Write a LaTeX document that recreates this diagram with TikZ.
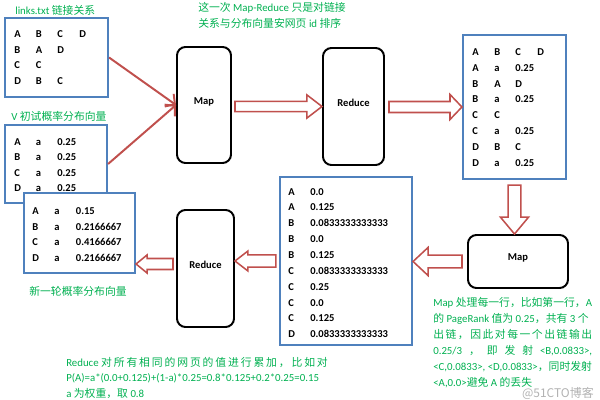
\documentclass[tikz,border=0pt]{standalone}
\usepackage{fontspec}
\setmainfont{Carlito}
\newfontfamily\cjk{Noto Sans CJK SC}
\usepackage{tikz}
\usetikzlibrary{arrows.meta,calc,fit}
\definecolor{box-blue}{RGB}{79,129,189}
\definecolor{arrow-red}{RGB}{192,80,77}
\definecolor{note-green}{RGB}{0,176,80}
\tikzstyle{datbox}=[draw=box-blue, line width=1.5pt, fill=white, inner sep=0pt]
\tikzstyle{procbox}=[draw=black, line width=1.4pt, rounded corners=6pt, fill=white, inner sep=0pt, font=\fontsize{7.5}{9}\selectfont\bfseries]
\tikzstyle{cell}=[anchor=base west, inner sep=0pt, font=\fontsize{7.5}{9}\selectfont\bfseries]
\tikzstyle{note}=[anchor=base west, inner sep=0pt, text=note-green, font=\fontsize{7.7}{11}\selectfont]
\tikzstyle{linkarr}=[draw=arrow-red, line width=1.4pt, -{Straight Barb[length=5pt,width=11pt]}]
\tikzstyle{blockarr}=[draw=arrow-red, line width=1.1pt, fill=white]
\newcommand{\zh}[1]{{\cjk #1}}
\makeatletter
\newcommand{\spreadzh}[1]{{\cjk\@tfor\zhc:=#1\do{\zhc\hfil}\unskip}}
\makeatother
% hollow block arrow: from, to, shaft half width, head half width, head length
\newcommand{\blockArrow}[5]{
	\coordinate (ZZh) at ($#2!#5!#1$);
	\draw[blockarr] ($#1!#3!90:#2$) -- ($(ZZh)!#3!-90:#1$) -- ($(ZZh)!#4!-90:#1$) -- #2
		-- ($(ZZh)!#4!90:#1$) -- ($(ZZh)!#3!90:#1$) -- ($#1!#3!-90:#2$) -- cycle;
}

\begin{document}
\begin{tikzpicture}[x=0.025cm, y=-0.025cm]
	\useasboundingbox (0,0) rectangle (600,400);
	% data boxes
	\node[datbox, fit={(5,18) (108,97)}] (links) {};
	\node[datbox, fit={(5,125) (107,203)}] (vinit) {};
	\node[datbox, fit={(24,193) (135,273)}] (vnew) {};
	\node[datbox, fit={(463,35) (566,179)}] (sorted) {};
	\node[datbox, fit={(280,177) (412,345)}] (mapout) {};
	% map / reduce steps
	\node[procbox, fit={(177,47) (231,163)}] (map1) {Map};
	\node[procbox, fit={(323,48) (384,165)}] (red1) {Reduce};
	\node[procbox, fit={(468,235) (568,288)}] (map2) {Map};
	\node[procbox, fit={(177,210) (234,327)}] (red2) {Reduce};
	% table contents
	\foreach \ca/\cb/\cc/\cd [count=\i from 0] in {A/B/C/D, B/A/D/{}, C/C/{}/{}, D/B/C/{}} {
		\node[cell] (lk\i-1) at (14,37.4+15.8*\i) {\ca};
		\node[cell] (lk\i-2) at (35.7,37.4+15.8*\i) {\cb};
		\node[cell] (lk\i-3) at (57,37.4+15.8*\i) {\cc};
		\node[cell] (lk\i-4) at (79,37.4+15.8*\i) {\cd};
	}
	\foreach \ca [count=\i from 0] in {A,B,C,D} {
		\node[cell] (vi\i-1) at (14,145.4+15.5*\i) {\ca};
		\node[cell] (vi\i-2) at (35.7,145.4+15.5*\i) {a};
		\node[cell] (vi\i-3) at (57,145.4+15.5*\i) {0.25};
	}
	\foreach \ca/\cc [count=\i from 0] in {A/0.15, B/0.2166667, C/0.4166667, D/0.2166667} {
		\node[cell] (vn\i-1) at (32,214.4+15.7*\i) {\ca};
		\node[cell] (vn\i-2) at (54,214.4+15.7*\i) {a};
		\node[cell] (vn\i-3) at (75.7,214.4+15.7*\i) {\cc};
	}
	\foreach \ca/\cb/\cc/\cd [count=\i from 0] in {A/B/C/D, A/a/0.25/{}, B/A/D/{}, B/a/0.25/{}, C/C/{}/{}, C/a/0.25/{}, D/B/C/{}, D/a/0.25/{}} {
		\node[cell] (so\i-1) at (472,55.4+15.86*\i) {\ca};
		\node[cell] (so\i-2) at (494,55.4+15.86*\i) {\cb};
		\node[cell] (so\i-3) at (515,55.4+15.86*\i) {\cc};
		\node[cell] (so\i-4) at (537,55.4+15.86*\i) {\cd};
	}
	\foreach \ca/\cb [count=\i from 0] in {A/0.0, A/0.125, B/0.0833333333333, B/0.0, B/0.125, C/0.0833333333333, C/0.25, C/0.0, C/0.125, D/0.0833333333333} {
		\node[cell] (mo\i-1) at (288,195.1+15.85*\i) {\ca};
		\node[cell] (mo\i-2) at (310,195.1+15.85*\i) {\cb};
	}
	% connectors
	\draw[linkarr] (links.east) -- (map1.west);
	\draw[linkarr] (vinit.east) -- (map1.west);
	\coordinate (a1) at ($(map1.east |- red1.west)+(3,0)$);
	\coordinate (a2) at ($(red1.east |- sorted.west)+(4,0)$);
	\coordinate (a3) at ($(sorted.south)+(0,5)$);
	\coordinate (a4) at ($(map2.west)+(-5,0)$);
	\coordinate (a5) at ($(mapout.west)+(-3,0)$);
	\coordinate (a6) at ($(red2.west)+(-3,-4.5)$);
	\blockArrow{(a1)}{(red1.west)}{3.6pt}{8.2pt}{10.7pt}
	\blockArrow{(a2)}{(sorted.west)}{3.9pt}{8.9pt}{8.5pt}
	\blockArrow{(a3)}{(sorted.south |- map2.north)}{4.6pt}{10pt}{12pt}
	\blockArrow{(a4)}{(mapout.east |- map2.west)}{4.6pt}{10pt}{10.7pt}
	\blockArrow{(a5)}{(red2.east |- mapout.west)}{4.3pt}{7.1pt}{9.2pt}
	\blockArrow{(a6)}{(vnew.east |- a6)}{3.9pt}{6.4pt}{7.8pt}
	% notes
	\node[note] (lblinks) at (15,15) {links.txt \zh{链接关系}};
	\node[note] (lbvinit) at (11,121) {V \zh{初试概率分布向量}};
	\node[note] (lbvnew) at (29,296) {\zh{新一轮概率分布向量}};
	\node[note] (lbtop1) at (198,12) {\zh{这一次} Map-Reduce \zh{只是对链接}};
	\node[note] (lbtop2) at (198,28) {\zh{关系与分布向量安网页} id \zh{排序}};
	\foreach \t [count=\i from 0] in {{Map \zh{处理每一行，比如第一行，}A},
		{\zh{的} PageRank \zh{值为} 0.25\zh{，共有} 3 \zh{个}},
		{\makebox[113pt][s]{\spreadzh{出链，因此对每一个出链输出}}},
		{\makebox[113pt][s]{0.25/3 \zh{，} \zh{即} \zh{发} \zh{射} <B,0.0833>,}},
		{<C,0.0833>, <D,0.0833>\zh{，同时发射}},
		{<A,0.0>\zh{避免} A \zh{的丢失}}} {
		\node[note] (mapnote\i) at (433,307+16*\i) {\t};
	}
	\foreach \t [count=\i from 0] in {{\makebox[186pt][s]{Reduce \spreadzh{对所有相同的网页的值进行累加，比如对}}},
		{P(A)=a*(0.0+0.125)+(1-a)*0.25=0.8*0.125+0.2*0.25=0.15},
		{a \zh{为权重，取} 0.8}} {
		\node[note] (rednote\i) at (66,367+15*\i) {\t};
	}
	\node[anchor=base east, inner sep=0pt, text=gray!60, font=\cjk\fontsize{8.5}{10}\selectfont] (wmark) at (594,398) {@51CTO博客};
\end{tikzpicture}
\end{document}
